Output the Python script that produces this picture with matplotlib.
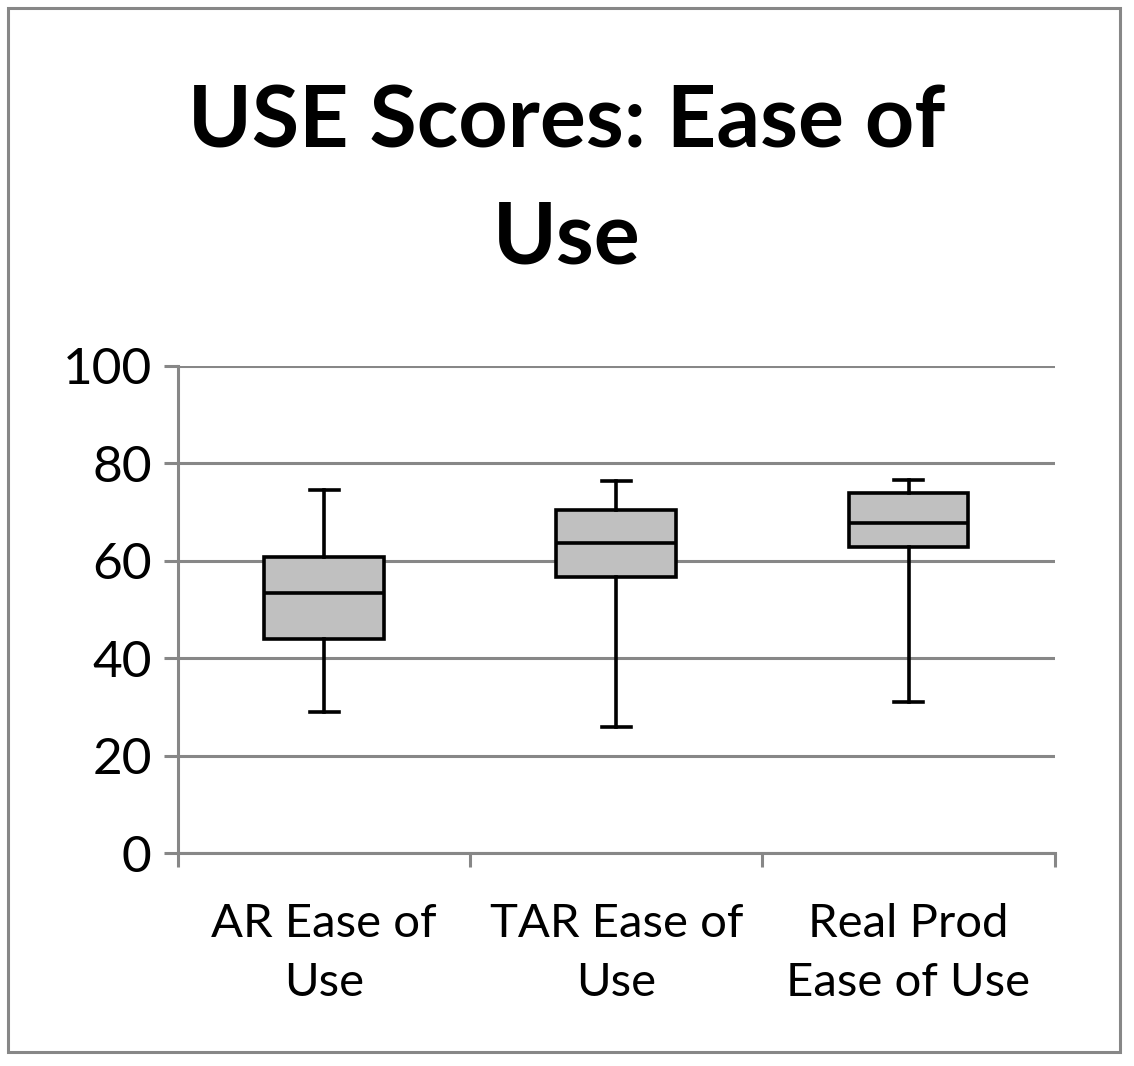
import matplotlib
matplotlib.use("Agg")
import matplotlib.pyplot as plt
from matplotlib.patches import Rectangle

plt.rcParams['font.family'] = ['Lato', 'DejaVu Sans']

# box plot stats
categories = ['AR Ease of\nUse', 'TAR Ease of\nUse', 'Real Prod\nEase of Use']
whisker_low = [29.0, 25.9, 31.0]
q1 = [43.9, 56.7, 62.8]
medians = [53.4, 63.7, 67.8]
q3 = [60.8, 70.4, 73.9]
whisker_high = [74.5, 76.4, 76.6]

grey = '#878787'

fig = plt.figure(figsize=(11.34, 10.66), dpi=100)
ax = fig.add_axes([0.157, 0.1998, 0.773, 0.4569])

stats = []
for i in range(len(categories)):
    stats.append({'whislo': whisker_low[i], 'q1': q1[i], 'med': medians[i],
                  'q3': q3[i], 'whishi': whisker_high[i], 'fliers': []})

pos = [0.5 + i for i in range(len(categories))]
lw = 2.6
ax.bxp(stats, positions=pos, widths=0.41, patch_artist=True, showfliers=False,
       boxprops=dict(facecolor='#c0c0c0', edgecolor='black', linewidth=lw),
       medianprops=dict(color='black', linewidth=lw),
       whiskerprops=dict(color='black', linewidth=lw),
       capprops=dict(color='black', linewidth=lw),
       capwidths=0.1, zorder=3)

ax.set_xlim(0, 3)
ax.set_ylim(0, 100)
ax.set_yticks(range(0, 101, 20))
ax.set_xticks(pos)
ax.set_xticklabels(categories, fontsize=34, linespacing=1.5)
ax.set_xticks([0, 1, 2, 3], minor=True)
ax.tick_params(axis='x', which='major', length=0, pad=36)
ax.tick_params(axis='x', which='minor', length=10, width=2.2, color=grey)
ax.tick_params(axis='y', length=10, width=2.2, color=grey, labelsize=37, pad=9)
ax.yaxis.grid(True, color=grey, linewidth=2.2, zorder=0)
ax.set_axisbelow(True)
for s in ['top', 'right']:
    ax.spines[s].set_visible(False)
for s in ['left', 'bottom']:
    ax.spines[s].set_color(grey)
    ax.spines[s].set_linewidth(2.2)

fig.text(0.5, 0.885, 'USE Scores: Ease of', ha='center', va='center',
         fontsize=62, fontweight='bold')
fig.text(0.5, 0.776, 'Use', ha='center', va='center',
         fontsize=62, fontweight='bold')

fig.patches.append(Rectangle((8 / 1134, 14 / 1066), 1112 / 1134, 1044 / 1066,
                             transform=fig.transFigure, fill=False,
                             edgecolor=grey, linewidth=2.2))

fig.savefig('out.png', dpi=100)
